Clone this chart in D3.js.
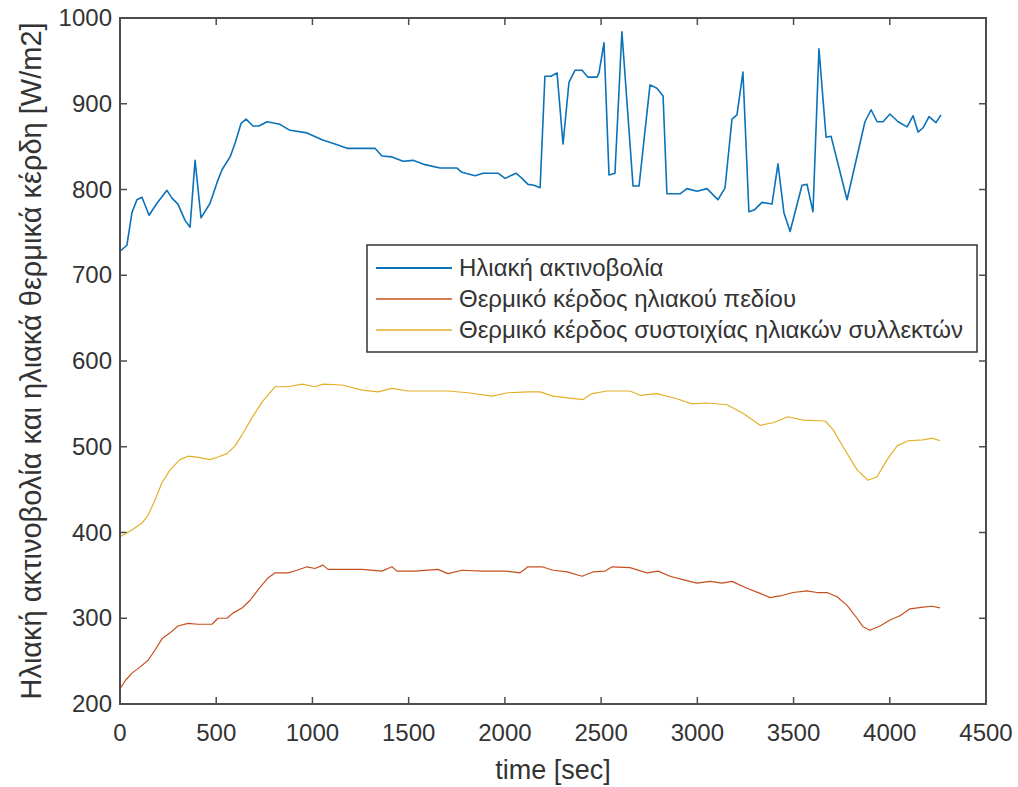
<!DOCTYPE html>
<head>
    <meta charset="utf-8">
    <script src="https://d3js.org/d3.v7.min.js"></script>
    <style>
        *{
            margin:0;
            padding:0;
        }
        body{
            background: #fff;
            font-family: 'Liberation Sans', Arial, sans-serif;
        }
        text{
            fill: #333;
        }
    </style>
</head>

<body>
<svg id="chart"></svg>

<script>

    // [time sec, value W/m2]
    let radiation = [
        [0,728],[36,735],[62,773],[88,788],[114,791],[151,770],[192,784],[244,799],[270,790],[301,783],
        [338,764],[364,756],[390,834],[421,767],[468,784],[504,808],[530,823],[572,838],[598,854],[629,877],
        [655,882],[691,874],[722,874],[764,879],[831,876],[883,869],[972,866],[1050,858],[1117,853],[1180,848],
        [1325,848],[1361,839],[1413,838],[1471,833],[1523,834],[1585,829],[1663,825],[1751,825],[1777,820],[1845,816],
        [1886,819],[1964,819],[2001,813],[2058,819],[2089,813],[2120,806],[2151,805],[2183,802],[2208,932],[2240,932],
        [2271,936],[2302,853],[2333,925],[2364,939],[2401,939],[2432,931],[2479,931],[2489,936],[2515,971],[2541,817],
        [2572,819],[2608,984],[2666,804],[2697,804],[2754,922],[2790,918],[2822,909],[2842,795],[2910,795],[2946,801],
        [2998,798],[3050,801],[3081,794],[3107,788],[3144,802],[3180,882],[3206,887],[3237,937],[3268,774],[3295,776],
        [3336,785],[3388,783],[3419,830],[3450,773],[3482,751],[3544,805],[3570,806],[3601,774],[3632,964],[3669,861],
        [3695,862],[3778,788],[3871,879],[3903,893],[3934,879],[3965,879],[4001,888],[4043,879],[4090,873],[4121,886],
        [4147,867],[4173,872],[4204,885],[4240,878],[4266,887]
    ];

    let fieldGain = [
        [0,218],[30,228],[62,236],[104,243],[146,251],[182,263],[218,276],[260,283],[301,291],[353,294],
        [405,293],[478,293],[509,300],[556,300],[587,306],[634,312],[676,321],[717,333],[769,347],[806,353],
        [873,353],[920,356],[972,360],[1013,358],[1055,362],[1081,357],[1154,357],[1258,357],[1361,355],[1413,360],
        [1439,355],[1533,355],[1652,357],[1704,352],[1777,356],[1881,355],[2001,355],[2079,353],[2120,360],[2193,360],
        [2250,356],[2323,354],[2401,349],[2458,354],[2521,355],[2557,360],[2650,359],[2738,353],[2796,355],[2858,349],
        [2925,345],[2998,341],[3066,343],[3128,341],[3180,343],[3258,335],[3326,329],[3378,324],[3430,326],[3497,330],
        [3570,332],[3622,330],[3674,330],[3726,325],[3778,315],[3830,300],[3861,290],[3897,286],[3949,291],[4001,298],
        [4053,303],[4105,311],[4173,313],[4220,314],[4261,312]
    ];

    let arrayGain = [
        [0,395],[62,403],[114,411],[146,420],[182,438],[218,458],[260,473],[312,485],[353,489],[400,488],
        [468,485],[509,488],[556,492],[598,501],[640,516],[686,534],[738,552],[806,570],[873,570],[946,573],
        [1013,570],[1055,573],[1154,572],[1258,566],[1341,564],[1413,568],[1497,565],[1621,565],[1704,565],[1808,563],
        [1933,559],[2016,563],[2120,564],[2183,564],[2250,559],[2323,557],[2406,555],[2453,562],[2531,565],[2650,565],
        [2702,560],[2790,562],[2894,556],[2972,550],[3050,551],[3154,549],[3237,539],[3326,525],[3394,528],[3471,535],
        [3549,531],[3664,530],[3705,520],[3757,500],[3830,473],[3887,461],[3934,465],[3986,485],[4038,501],[4095,507],
        [4173,508],[4220,510],[4261,507]
    ];

    let seriesNames = ["Ηλιακή ακτινοβολία", "Θερμικό κέρδος ηλιακού πεδίου", "Θερμικό κέρδος συστοιχίας ηλιακών συλλεκτών"];
    let seriesColors = ["#0b72b9", "#c4501e", "#e3b02a"];
    let xTicks = [0,500,1000,1500,2000,2500,3000,3500,4000,4500];
    let yTicks = [200,300,400,500,600,700,800,900,1000];


    //size
    let width = 1018, height = 787;
    let margin = {top: 18, right: 32, bottom: 83, left: 120};

    let svg = d3.select("#chart")
        .attr("width", width)
        .attr("height", height);

    let x = d3.scaleLinear().domain([0, 4500]).range([margin.left, width - margin.right]);
    let y = d3.scaleLinear().domain([200, 1000]).range([height - margin.bottom, margin.top]);

    let tickLen = 7;
    let axisColor = "#4d4d4d";


    //ticks (inside, on all four sides)
    let tickGroup = svg.append("g");
    xTicks.forEach(t => {
        tickGroup.append("line").attr("x1", x(t)).attr("x2", x(t))
            .attr("y1", y(200)).attr("y2", y(200) - tickLen);
        tickGroup.append("line").attr("x1", x(t)).attr("x2", x(t))
            .attr("y1", y(1000)).attr("y2", y(1000) + tickLen);
    });
    yTicks.forEach(v => {
        tickGroup.append("line").attr("x1", x(0)).attr("x2", x(0) + tickLen)
            .attr("y1", y(v)).attr("y2", y(v));
        tickGroup.append("line").attr("x1", x(4500)).attr("x2", x(4500) - tickLen)
            .attr("y1", y(v)).attr("y2", y(v));
    });
    tickGroup.selectAll("line").attr("stroke", axisColor).attr("stroke-width", 1.5);


    //lines
    let line = d3.line().x(d => x(d[0])).y(d => y(d[1]));
    let allSeries = [radiation, fieldGain, arrayGain];
    let widths = [1.6, 1.2, 1.2];

    allSeries.forEach((s, i) => {
        svg.append("path")
            .datum(s)
            .attr("d", line)
            .attr("fill", "none")
            .attr("stroke", seriesColors[i])
            .attr("stroke-width", widths[i])
            .attr("stroke-linejoin", "round");
    });


    //box
    svg.append("rect")
        .attr("x", x(0)).attr("y", y(1000))
        .attr("width", x(4500) - x(0)).attr("height", y(200) - y(1000))
        .attr("fill", "none")
        .attr("stroke", axisColor)
        .attr("stroke-width", 2);


    //tick labels
    svg.append("g").selectAll("text")
        .data(xTicks)
        .enter().append("text")
        .attr("x", d => x(d))
        .attr("y", y(200) + 37)
        .attr("text-anchor", "middle")
        .attr("font-size", 24)
        .text(d => d);

    svg.append("g").selectAll("text")
        .data(yTicks)
        .enter().append("text")
        .attr("x", x(0) - 8)
        .attr("y", d => y(d) + 8)
        .attr("text-anchor", "end")
        .attr("font-size", 24)
        .text(d => d);


    //axis labels
    svg.append("text")
        .attr("x", (x(0) + x(4500)) / 2)
        .attr("y", 779)
        .attr("text-anchor", "middle")
        .attr("font-size", 27)
        .text("time [sec]");

    svg.append("text")
        .attr("transform", "translate(41," + ((y(200) + y(1000)) / 2) + ") rotate(-90)")
        .attr("text-anchor", "middle")
        .attr("font-size", 29)
        .text("Ηλιακή ακτινοβολία και ηλιακά θερμικά κέρδη [W/m2]");


    //legend
    let legend = svg.append("g");
    legend.append("rect")
        .attr("x", 367).attr("y", 245)
        .attr("width", 610).attr("height", 107)
        .attr("fill", "#fff")
        .attr("stroke", "#333")
        .attr("stroke-width", 1.5);

    seriesNames.forEach((name, i) => {
        let ly = 268 + i * 31;
        legend.append("line")
            .attr("x1", 376).attr("x2", 452)
            .attr("y1", ly).attr("y2", ly)
            .attr("stroke", seriesColors[i])
            .attr("stroke-width", widths[i] + 0.4);
        legend.append("text")
            .attr("x", 459).attr("y", ly + 8)
            .attr("font-size", 24)
            .text(name);
    });

</script>
</body>
